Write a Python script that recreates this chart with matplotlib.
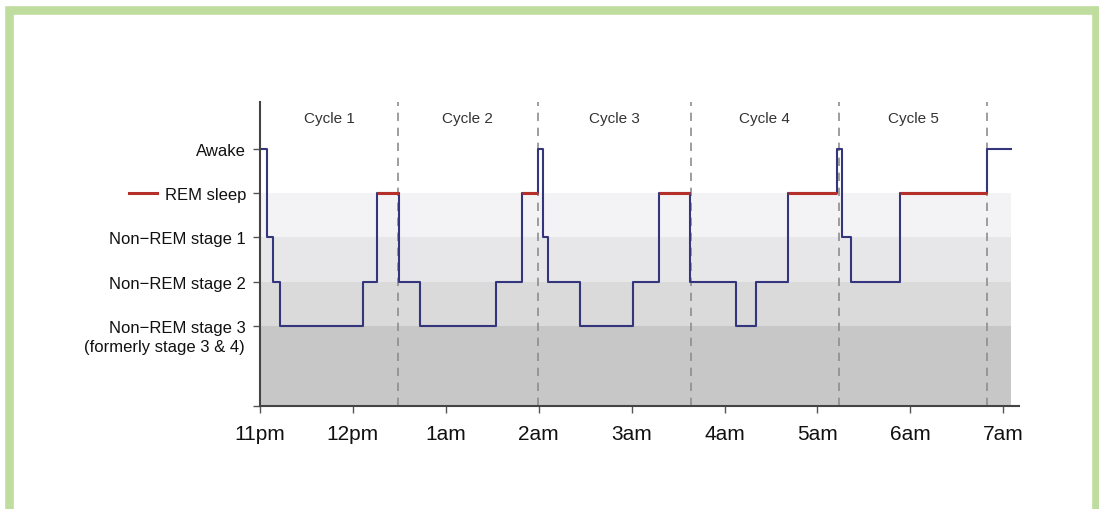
import matplotlib
matplotlib.use("Agg")
import matplotlib.pyplot as plt
from matplotlib.patches import Rectangle
from matplotlib.lines import Line2D
import numpy as np

plt.rcParams['font.family'] = ['Liberation Sans', 'DejaVu Sans']

# Hypnogram: hours after 11pm where the stage changes, and the stage that starts there
# stage levels: 0 = NREM 3, 1 = NREM 2, 2 = NREM 1, 3 = REM, 4 = Awake
times = [0, 0.07, 0.14, 0.22, 1.11, 1.26, 1.50, 1.72, 2.54, 2.82, 2.99, 3.05, 3.10,
         3.44, 4.02, 4.30, 4.63, 5.12, 5.34, 5.68, 6.21, 6.26, 6.36, 6.89, 7.83, 8.08]
stages = [4, 2, 1, 0, 1, 3, 1, 0, 1, 3, 4, 2, 1,
          0, 1, 3, 1, 0, 1, 3, 4, 2, 1, 3, 4, 4]

cycleEnds = [1.485, 2.99, 4.635, 6.23, 7.83]
cycleNames = ["Cycle 1", "Cycle 2", "Cycle 3", "Cycle 4", "Cycle 5"]

hourTicks = [0, 1, 2, 3, 4, 5, 6, 7, 8]
hourLabels = ["11pm", "12pm", "1am", "2am", "3am", "4am", "5am", "6am", "7am"]

stageTicks = [4, 3, 2, 1, 0]
stageLabels = ["Awake", "REM sleep", "Non\u2212REM stage 1", "Non\u2212REM stage 2",
               "Non\u2212REM stage 3"]

# background bands (bottom, top, colour)
bandEdges = [(-1.81, 0), (0, 1), (1, 2), (2, 3)]
bandColors = ["#c7c7c7", "#dadadb", "#e7e7e9", "#f3f3f5"]

lineColor = "#33367c"
remColor = "#b5302b"

fig = plt.figure(figsize=(10.99, 5.10), dpi=100)
ax = fig.add_axes([260 / 1099, 103 / 510, 759 / 1099, 304 / 510])

tEnd = times[-1]
for (lo, hi), c in zip(bandEdges, bandColors):
    ax.fill_between([0, tEnd], lo, hi, color=c, lw=0, zorder=0)

for x in cycleEnds:
    ax.axvline(x, color="#8e8e8e", lw=1.2, ls=(0, (5, 4)), zorder=1)

ax.plot(times, stages, drawstyle="steps-post", color=lineColor, lw=1.5, zorder=2)
for i in range(len(times) - 1):
    if stages[i] == 3:
        ax.plot([times[i], times[i + 1]], [3, 3], color=remColor, lw=2.2,
                solid_capstyle="butt", zorder=3)

bounds = [0] + cycleEnds
for i, name in enumerate(cycleNames):
    ax.text((bounds[i] + bounds[i + 1]) / 2, 4.70, name, ha="center", va="center",
            fontsize=11, color="#333333")

ax.set_xlim(0, 8.17)
ax.set_ylim(-1.81, 5.06)

ax.set_xticks(hourTicks)
ax.set_xticklabels(hourLabels, fontsize=15, color="#111111")
ax.set_yticks(stageTicks + [-1.81])
ax.set_yticklabels(stageLabels + [""], fontsize=12, color="#111111")
ax.tick_params(axis="y", length=5, width=1, color="#555555", pad=5)
ax.tick_params(axis="x", length=5, width=1, color="#555555", pad=8)

for s in ["top", "right"]:
    ax.spines[s].set_visible(False)
for s in ["left", "bottom"]:
    ax.spines[s].set_color("#444444")
    ax.spines[s].set_linewidth(1.5)
ax.set_facecolor("none")

# second line of the NREM 3 label
ax.text(-0.165, 0 - 21 / 44.25, "(formerly stage 3 & 4)", ha="right", va="center",
        fontsize=12, color="#111111", transform=ax.transData, clip_on=False)

# red key mark next to "REM sleep"
fig.add_artist(Line2D([129 / 1099, 157 / 1099], [(510 - 194) / 510] * 2,
                      color=remColor, lw=2.2, transform=fig.transFigure))

# green frame
fig.add_artist(Rectangle((8.5 / 1099, -0.2), (1096 - 8.5) / 1099, 0.2 + 499 / 510,
                         fill=False, edgecolor="#bedd9f", lw=6.2,
                         transform=fig.transFigure))

fig.savefig("out.png", dpi=100)
